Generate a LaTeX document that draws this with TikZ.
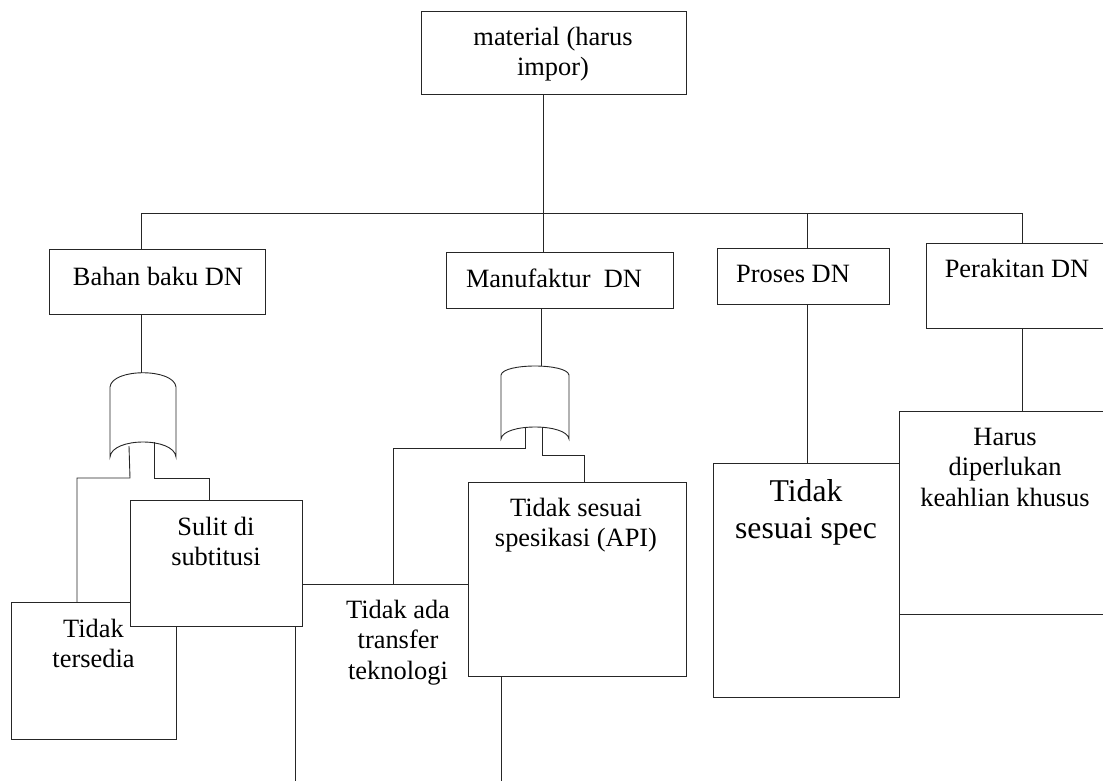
\documentclass[tikz,border=0pt]{standalone}
\usepackage{fontspec}
\setmainfont{Liberation Serif}
\begin{document}
\begin{tikzpicture}[x=1pt,y=-1pt,
  line width=0.9pt, draw=black!85,
  box/.style={draw, fill=white, inner sep=0pt, outer sep=0pt, anchor=north west},
  lbl/.style={anchor=north, inner sep=0pt, align=center,
              font=\fontsize{26.4}{30.4}\selectfont},
  biglbl/.style={lbl, font=\fontsize{31.7}{36.5}\selectfont}]
\useasboundingbox (0,0) rectangle (1103,780);
\clip (0,0) rectangle (1103,780);

% ---- boxes (lower layers first) ----
\node[box, minimum width=265pt, minimum height=83pt]  (mat)      at (421,11)  {};
\node[box, minimum width=216pt, minimum height=65pt]  (bahan)    at (49,249)  {};
\node[box, minimum width=227pt, minimum height=56pt]  (manuf)    at (446,252) {};
\node[box, minimum width=172pt, minimum height=56pt]  (proses)   at (717,248) {};
\node[box, minimum width=184pt, minimum height=85pt]  (perak)    at (926,243) {};
\node[box, minimum width=206pt, minimum height=216pt] (transfer) at (295,584) {};
\node[box, minimum width=165pt, minimum height=137pt] (tersedia) at (11,602)  {};
\node[box, minimum width=172pt, minimum height=126pt] (sulit)    at (130,500) {};
\node[box, minimum width=218pt, minimum height=194pt] (api)      at (468,482) {};
\node[box, minimum width=186pt, minimum height=234pt] (spec)     at (713,463) {};
\node[box, minimum width=211pt, minimum height=203pt] (harus)    at (899,411) {};

% ---- box texts ----
\node[lbl] (matT)      at (553,23.7)   {\strut material (harus\\impor)};
\node[lbl] (bahanT)    at (158,263.7)  {\strut Bahan baku DN};
\node[lbl] (manufT)    at (554,265.7)  {\strut Manufaktur\ \ DN};
\node[lbl] (prosesT)   at (793,260.7)  {\strut Proses DN};
\node[lbl] (perakT)    at (1017,255.7) {\strut Perakitan DN};
\node[lbl] (sulitT)    at (216,513.7)  {\strut Sulit di\\subtitusi};
\node[lbl] (tersediaT) at (93.5,615.7) {\strut Tidak\\tersedia};
\node[lbl] (transferT) at (398,596.7)  {\strut Tidak ada\\transfer\\teknologi};
\node[lbl] (apiT)      at (576,494.7)  {\strut Tidak sesuai\\spesikasi (API)};
\node[biglbl] (specT)  at (806,475.5)  {\strut Tidak\\sesuai spec};
\node[lbl] (harusT)    at (1005,423.7) {\strut Harus\\diperlukan\\keahlian khusus};

% ---- OR gates ----
\draw[fill=white] (110,387) .. controls (112,368) and (174,368) .. (176,387)
  -- (176,457) .. controls (174,437) and (112,437) .. (110,457) -- cycle;
\draw[fill=white] (501,375) .. controls (503,363) and (567,363) .. (569,375)
  -- (569,439) .. controls (567,423) and (503,423) .. (501,439) -- cycle;

% ---- junction points ----
\coordinate (bus)  at (543,213);
\coordinate (busL) at (141,213);
\coordinate (busP) at (807,213);
\coordinate (busR) at (1022,213);
\coordinate (g1out) at (141,373);
\coordinate (g2out) at (541,366);
\coordinate (g1a) at (129,446);
\coordinate (g1b) at (154,442);
\coordinate (g2a) at (525,427);
\coordinate (g2b) at (542,427);
\coordinate (t1) at (77,478);
\coordinate (t1b) at (130,478);
\coordinate (t2) at (209,478);
\coordinate (s1) at (393,448);
\coordinate (s2) at (584,455);

% ---- connectors ----
\draw (mat.south -| bus) -- (bus);
\draw (busL) -- (busR);
\draw (busL) -- (busL |- bahan.north);
\draw (bus)  -- (bus |- manuf.north);
\draw (busP) -- (busP |- proses.north);
\draw (busR) -- (busR |- perak.north);

\draw (g1out |- bahan.south) -- (g1out);
\draw (g2out |- manuf.south) -- (g2out);
\draw (busP |- proses.south) -- (busP |- spec.north);
\draw (busR |- perak.south) -- (busR |- harus.north);

\draw (g1a) -- (t1b) -- (t1) -- (t1 |- tersedia.north);
\draw (g1b) -- (g1b |- t2) -- (t2) -- (t2 |- sulit.north);
\draw (g2a) -- (g2a |- s1) -- (s1) -- (s1 |- transfer.north);
\draw (g2b) -- (g2b |- s2) -- (s2) -- (s2 |- api.north);
\end{tikzpicture}
\end{document}
